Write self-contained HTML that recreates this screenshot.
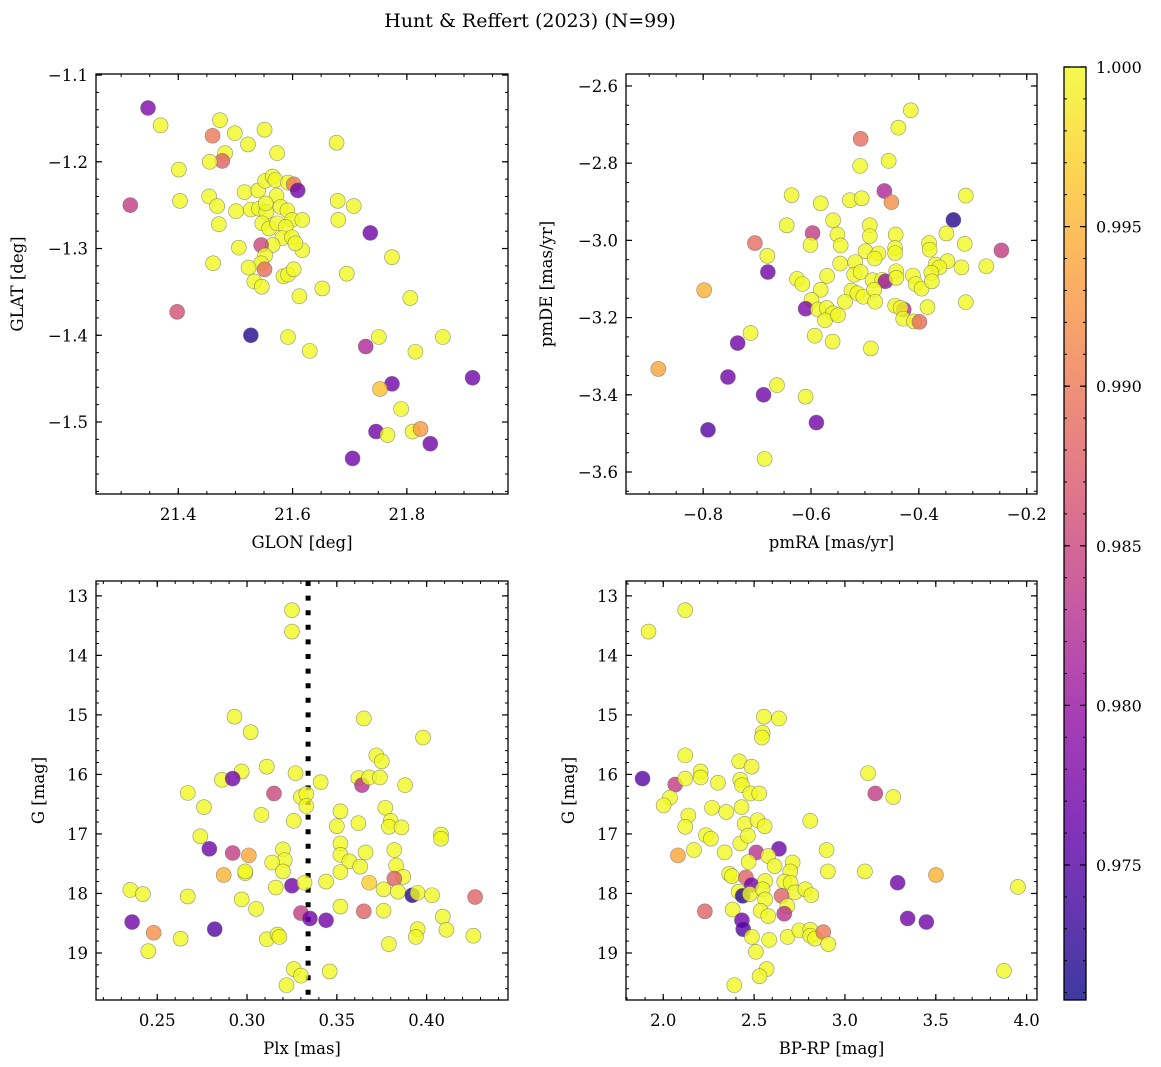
<!DOCTYPE html>
<html><head><meta charset="utf-8">
<style>
html,body{margin:0;padding:0;background:#fff;}
svg{display:block;font-family:"DejaVu Serif","Liberation Serif",serif;}
</style></head>
<body>
<svg id="fig" width="1161" height="1067" viewBox="0 0 1161 1067" xmlns="http://www.w3.org/2000/svg">
<rect width="1161" height="1067" fill="#fff"/>
<text x="530" y="27" font-size="19" text-anchor="middle">Hunt &amp; Reffert (2023) (N=99)</text>
</svg>
<script>
// ---------- Panel 1: GLON / GLAT ----------
const glon = [21.347,21.369,21.473,21.460,21.499,21.551,21.522,21.573,21.482,21.477,
21.455,21.401,21.677,21.316,21.403,21.454,21.468,21.471,21.501,21.516,
21.540,21.552,21.565,21.570,21.592,21.602,21.609,21.572,21.527,21.541,
21.554,21.553,21.579,21.591,21.599,21.617,21.547,21.559,21.573,21.588,
21.582,21.599,21.565,21.617,21.605,21.545,21.552,21.545,21.551,21.523,
21.533,21.546,21.584,21.592,21.602,21.612,21.652,21.695,21.506,21.461,
21.679,21.707,21.680,21.736,21.774,21.806,21.398,21.527,21.592,21.630,
21.751,21.728,21.815,21.863,21.915,21.774,21.753,21.790,21.746,21.766,
21.810,21.824,21.841,21.705];
const glat = [-1.138,-1.158,-1.152,-1.170,-1.167,-1.163,-1.180,-1.190,-1.190,-1.199,
-1.200,-1.209,-1.178,-1.250,-1.245,-1.240,-1.251,-1.272,-1.257,-1.235,
-1.233,-1.222,-1.217,-1.221,-1.224,-1.226,-1.233,-1.239,-1.255,-1.254,
-1.258,-1.248,-1.252,-1.256,-1.267,-1.267,-1.271,-1.277,-1.271,-1.275,
-1.288,-1.287,-1.296,-1.302,-1.294,-1.296,-1.308,-1.317,-1.324,-1.322,
-1.338,-1.344,-1.332,-1.330,-1.324,-1.355,-1.346,-1.329,-1.299,-1.317,
-1.245,-1.251,-1.267,-1.282,-1.310,-1.357,-1.373,-1.400,-1.402,-1.418,
-1.402,-1.413,-1.419,-1.402,-1.449,-1.456,-1.462,-1.485,-1.511,-1.515,
-1.511,-1.508,-1.525,-1.542];
const prob1 = [.978,1,1,.99,1,1,1,1,1,.988,
1,1,1,.984,1,1,1,1,1,1,
1,1,1,1,1,.99,.977,1,1,1,
1,1,1,1,1,1,1,1,1,1,
1,1,1,1,1,.985,1,1,.989,1,
1,1,1,1,1,1,1,1,1,1,
1,1,1,.977,1,1,.986,.972,1,1,
1,.982,1,1,.977,.977,.996,1,.977,1,
1,.993,.977,.977];
const xTicks1 = [21.4,21.6,21.8];
const yTicks1 = [-1.1,-1.2,-1.3,-1.4,-1.5];

// ---------- Panel 2: pmRA / pmDE ----------
const pmra = [-0.415,-0.438,-0.508,-0.509,-0.456,-0.464,-0.451,-0.313,-0.636,-0.582,
-0.528,-0.506,-0.336,-0.559,-0.645,-0.597,-0.491,-0.551,-0.491,-0.443,
-0.349,-0.315,-0.247,-0.704,-0.601,-0.545,-0.681,-0.680,-0.499,-0.475,
-0.482,-0.444,-0.444,-0.381,-0.380,-0.546,-0.518,-0.369,-0.347,-0.321,
-0.275,-0.362,-0.377,-0.626,-0.616,-0.570,-0.520,-0.508,-0.486,-0.468,
-0.462,-0.442,-0.442,-0.411,-0.406,-0.395,-0.376,-0.582,-0.525,-0.514,
-0.503,-0.483,-0.481,-0.599,-0.610,-0.587,-0.571,-0.559,-0.574,-0.550,
-0.537,-0.444,-0.428,-0.434,-0.429,-0.409,-0.399,-0.384,-0.313,-0.798,
-0.712,-0.736,-0.593,-0.560,-0.489,-0.883,-0.754,-0.663,-0.688,-0.610,
-0.590,-0.791,-0.686];
const pmde = [-2.663,-2.708,-2.737,-2.807,-2.794,-2.872,-2.901,-2.884,-2.883,-2.904,
-2.896,-2.891,-2.947,-2.948,-2.961,-2.981,-2.961,-2.985,-2.989,-2.985,
-2.982,-3.009,-3.026,-3.007,-3.012,-3.013,-3.040,-3.082,-3.028,-3.034,
-3.047,-3.020,-3.033,-3.007,-3.024,-3.060,-3.056,-3.063,-3.054,-3.070,
-3.067,-3.070,-3.084,-3.100,-3.113,-3.092,-3.089,-3.082,-3.103,-3.102,
-3.106,-3.080,-3.097,-3.091,-3.113,-3.125,-3.106,-3.128,-3.130,-3.137,
-3.146,-3.128,-3.159,-3.154,-3.177,-3.179,-3.175,-3.189,-3.207,-3.194,
-3.159,-3.169,-3.179,-3.175,-3.203,-3.210,-3.211,-3.173,-3.160,-3.129,
-3.240,-3.266,-3.247,-3.262,-3.280,-3.333,-3.354,-3.375,-3.400,-3.405,
-3.472,-3.491,-3.566];
const prob2 = [1,1,.989,1,1,.982,.992,1,1,1,
1,1,.972,1,1,.984,1,1,1,1,
1,1,.984,.989,1,1,1,.977,1,1,
1,1,1,1,1,1,1,1,1,1,
1,1,1,1,1,1,1,1,1,1,
.98,1,1,1,1,1,1,1,1,1,
1,1,1,1,.978,1,1,1,1,1,
1,1,.983,1,1,1,.989,1,1,.995,
1,.977,1,1,1,.994,.977,1,.977,1,
.977,.975,1];
const xTicks2 = [-0.8,-0.6,-0.4,-0.2];
const yTicks2 = [-2.6,-2.8,-3.0,-3.2,-3.4,-3.6];

// ---------- Panel 3: Plx / G ----------
const plx = [.325,.325,.293,.365,.302,.398,.372,.375,.311,.327,
.297,.286,.292,.341,.362,.364,.368,.374,.388,.315,
.267,.330,.333,.333,.276,.308,.352,.377,.380,.379,
.386,.326,.350,.362,.408,.408,.274,.279,.292,.301,
.320,.321,.314,.320,.352,.352,.357,.366,.363,.352,
.382,.383,.387,.382,.287,.299,.299,.235,.242,.267,
.325,.332,.344,.316,.368,.376,.384,.392,.395,.403,
.427,.297,.305,.352,.365,.376,.409,.330,.335,.344,
.236,.282,.248,.263,.311,.317,.318,.395,.394,.411,
.426,.379,.245,.326,.330,.346,.322];
const gmag3 = [13.24,13.60,15.03,15.06,15.29,15.38,15.68,15.78,15.87,15.98,
15.95,16.09,16.07,16.13,16.06,16.18,16.05,16.05,16.18,16.32,
16.31,16.38,16.33,16.53,16.55,16.68,16.62,16.56,16.78,16.88,
16.89,16.78,16.87,16.82,17.01,17.08,17.04,17.25,17.32,17.36,
17.26,17.44,17.48,17.63,17.16,17.35,17.46,17.31,17.55,17.64,
17.27,17.53,17.72,17.75,17.69,17.66,17.63,17.94,18.01,18.05,
17.87,17.82,17.80,17.90,17.82,17.93,17.97,18.03,17.99,18.03,
18.06,18.10,18.26,18.22,18.30,18.29,18.39,18.33,18.42,18.45,
18.48,18.60,18.66,18.76,18.77,18.69,18.73,18.60,18.73,18.61,
18.71,18.85,18.97,19.27,19.38,19.31,19.54];
const prob3 = [1,1,1,1,1,1,1,1,1,1,
1,1,.977,1,1,.983,1,1,1,.985,
1,1,1,1,1,1,1,1,1,1,
1,1,1,1,1,1,1,.977,.984,.994,
1,1,1,1,1,1,1,1,1,1,
1,1,1,.988,.995,1,1,1,1,1,
.977,1,1,1,.997,1,1,.972,1,1,
.988,1,1,1,.988,1,1,.984,.977,.977,
.977,.975,.992,1,1,1,1,1,1,1,
1,1,1,1,1,1,1];
const xTicks3 = [0.25,0.30,0.35,0.40];
const yTicksG = [13,14,15,16,17,18,19];
const plxRef = [0.334];

// ---------- Panel 4: BP-RP / G ----------
const bprp = [2.121,1.919,2.554,2.637,2.547,2.543,2.121,2.418,2.486,1.886,
2.066,2.121,2.206,2.206,2.301,2.424,2.433,2.479,2.528,3.127,
3.167,3.266,2.037,2.002,2.138,2.121,2.268,2.347,2.431,2.448,
2.519,2.558,2.809,2.235,2.262,2.424,2.466,2.169,2.081,2.338,
2.512,2.637,2.578,2.470,2.613,2.712,2.699,2.899,2.906,3.110,
2.363,2.378,2.455,2.486,2.561,2.666,2.701,3.290,3.501,3.952,
2.415,2.437,2.477,2.547,2.561,2.725,2.782,2.815,2.651,2.683,
2.666,2.229,2.382,2.536,2.578,2.433,2.440,3.345,3.448,2.488,
2.583,2.684,2.749,2.809,2.809,2.835,2.881,2.908,2.510,2.569,
2.530,3.875,2.391];
const gmag4 = [13.24,13.60,15.03,15.06,15.30,15.38,15.68,15.78,15.87,16.07,
16.17,16.07,15.95,16.05,16.14,16.09,16.18,16.32,16.32,15.98,
16.32,16.38,16.39,16.52,16.69,16.88,16.56,16.63,16.55,16.83,
16.77,16.87,16.78,17.02,17.08,17.16,17.03,17.27,17.36,17.31,
17.31,17.25,17.37,17.47,17.54,17.48,17.63,17.27,17.63,17.63,
17.67,17.71,17.73,17.86,17.79,17.80,17.82,17.82,17.69,17.89,
17.97,18.04,18.01,17.93,18.10,17.98,17.93,18.03,18.04,18.21,
18.34,18.30,18.27,18.29,18.38,18.45,18.60,18.42,18.48,18.73,
18.78,18.73,18.62,18.61,18.71,18.76,18.65,18.85,18.98,19.27,
19.39,19.30,19.54];
const prob4 = [1,1,1,1,1,1,1,1,1,.975,
.984,1,1,1,1,1,1,1,1,1,
.984,1,1,1,1,1,1,1,1,1,
1,1,1,1,1,1,1,1,.994,1,
.983,.977,1,1,1,1,1,1,1,1,
1,1,.988,.977,1,1,1,.977,.995,1,
1,.972,1,1,1,1,1,1,.988,1,
.983,.988,1,1,1,.977,.975,.977,.977,1,
1,1,1,1,1,1,.99,1,1,1,
1,1,1];
const xTicks4 = [2.0,2.5,3.0,3.5,4.0];

// ---------- Colorbar ----------
const cbTicks = [1.000,0.995,0.990,0.985,0.980,0.975];
const cbRange = [0.97077,1.0];

const NS = "http://www.w3.org/2000/svg";
const svg = document.getElementById('fig');
function el(tag, attrs, parent){
  const e = document.createElementNS(NS, tag);
  for (const k in attrs) e.setAttribute(k, attrs[k]);
  (parent||svg).appendChild(e);
  return e;
}
const plasmaStops = ["#0d0887","#41049d","#6a00a8","#8f0da4","#b12a90","#cc4778","#e16462","#f2844b","#fca636","#fcce25","#f0f921"];
function hex(h){return [parseInt(h.slice(1,3),16),parseInt(h.slice(3,5),16),parseInt(h.slice(5,7),16)];}
function plasma(t){
  t = Math.max(0,Math.min(1,t));
  const f = t*10, i = Math.min(9,Math.floor(f)), r = f-i;
  const a = hex(plasmaStops[i]), b = hex(plasmaStops[i+1]);
  return "rgb("+a.map((v,k)=>Math.round(v+(b[k]-v)*r)).join(",")+")";
}
function colorOf(p){return plasma((p-cbRange[0])/(cbRange[1]-cbRange[0]));}
function fmt(v,d){const s=Math.abs(v).toFixed(d);return (v<0?"\u2212":"")+s;}

function makeScale(d0,d1,r0,r1){return v=>r0+(v-d0)/(d1-d0)*(r1-r0);}

function panel(cfg){
  const {L,T,R,B,xd,yd,name} = cfg;
  const sx = makeScale(xd[0],xd[1],L,R), sy = makeScale(yd[0],yd[1],T,B);
  const g = el('g',{});
  
  
  const lo = Math.min(xd[0],xd[1]), hi = Math.max(xd[0],xd[1]);
  for (let v=Math.ceil(lo/cfg.xminor)*cfg.xminor; v<=hi; v+=cfg.xminor){
    const x=sx(v);
    el('line',{x1:x,x2:x,y1:B,y2:B-3,stroke:'#000','stroke-width':1},g);
    el('line',{x1:x,x2:x,y1:T,y2:T+3,stroke:'#000','stroke-width':1},g);
  }
  const ylo=Math.min(yd[0],yd[1]), yhi=Math.max(yd[0],yd[1]);
  for (let v=Math.ceil(ylo/cfg.yminor)*cfg.yminor; v<=yhi; v+=cfg.yminor){
    const y=sy(v);
    el('line',{x1:L,x2:L+3,y1:y,y2:y,stroke:'#000','stroke-width':1},g);
    el('line',{x1:R,x2:R-3,y1:y,y2:y,stroke:'#000','stroke-width':1},g);
  }
  cfg.xt.forEach(v=>{
    const x=sx(v);
    el('line',{x1:x,x2:x,y1:B,y2:B-6,stroke:'#000','stroke-width':1.2},g);
    el('line',{x1:x,x2:x,y1:T,y2:T+6,stroke:'#000','stroke-width':1.2},g);
    const t=el('text',{x:x,y:B+26,'font-size':16.5,'text-anchor':'middle'},g);
    t.textContent=fmt(v,cfg.xdec);
    
    
  });
  cfg.yt.forEach(v=>{
    const y=sy(v);
    el('line',{x1:L,x2:L+6,y1:y,y2:y,stroke:'#000','stroke-width':1.2},g);
    el('line',{x1:R,x2:R-6,y1:y,y2:y,stroke:'#000','stroke-width':1.2},g);
    const t=el('text',{x:L-8,y:y+6,'font-size':16.5,'text-anchor':'end'},g);
    t.textContent=fmt(v,cfg.ydec);
    
    
  });
  if (cfg.vline){
    cfg.vline.forEach(v=>{
      const ln=el('line',{x1:sx(v),x2:sx(v),y1:T,y2:B,stroke:'#000','stroke-width':5,'stroke-dasharray':'5 9.6'},g);
      
      
    });
  }
  const pts = el('g',{},g);
  
  
  cfg.xs.forEach((xv,i)=>{
    const c=el('circle',{cx:sx(xv),cy:sy(cfg.ys[i]),r:7.5,fill:colorOf(cfg.ps[i]),'fill-opacity':0.8,stroke:'#666','stroke-width':0.6,'stroke-opacity':0.7},pts);
    
    
  });
  const fr=el('rect',{x:L,y:T,width:R-L,height:B-T,fill:'none',stroke:'#000','stroke-width':1.3},g);
  
  
  const xl=el('text',{x:(L+R)/2,y:B+54,'font-size':16.5,'text-anchor':'middle'},g);
  xl.textContent=cfg.xlabel;
  
  
  const yl=el('text',{x:0,y:0,'font-size':16.5,'text-anchor':'middle',transform:`translate(${cfg.ylx},${(T+B)/2}) rotate(-90)`},g);
  yl.textContent=cfg.ylabel;
  
  
}

panel({name:'glon-glat',L:96,T:74,R:508,B:494,xd:[21.256,21.977],yd:[-1.0988,-1.583],
  xt:xTicks1,yt:yTicks1,xminor:0.05,yminor:0.02,xdec:1,ydec:1,xs:glon,ys:glat,ps:prob1,
  xlabel:'GLON [deg]',ylabel:'GLAT [deg]',ylx:23});
panel({name:'pm',L:626,T:74,R:1037,B:494,xd:[-0.943,-0.181],yd:[-2.569,-3.657],
  xt:xTicks2,yt:yTicks2,xminor:0.05,yminor:0.05,xdec:1,ydec:1,xs:pmra,ys:pmde,ps:prob2,
  xlabel:'pmRA [mas/yr]',ylabel:'pmDE [mas/yr]',ylx:552});
panel({name:'plx-g',L:96,T:581,R:508,B:1000,xd:[0.2159,0.4453],yd:[12.75,19.79],
  xt:xTicks3,yt:yTicksG,xminor:0.01,yminor:0.2,xdec:2,ydec:0,xs:plx,ys:gmag3,ps:prob3,
  xlabel:'Plx [mas]',ylabel:'G [mag]',ylx:44,vline:plxRef});
panel({name:'cmd',L:626,T:581,R:1037,B:1000,xd:[1.795,4.057],yd:[12.75,19.79],
  xt:xTicks4,yt:yTicksG,xminor:0.1,yminor:0.2,xdec:1,ydec:0,xs:bprp,ys:gmag4,ps:prob4,
  xlabel:'BP-RP [mag]',ylabel:'G [mag]',ylx:574});

(function(){
  const L=1064,R=1086,T=67,B=1000;
  const g=el('g',{});
  
  
  const defs=el('defs',{},g);
  const lg=el('linearGradient',{id:'cbg',x1:0,y1:1,x2:0,y2:0},defs);
  for(let i=0;i<=20;i++){el('stop',{offset:(i/20),'stop-color':plasma(i/20)},lg);}
  el('rect',{x:L,y:T,width:R-L,height:B-T,fill:'url(#cbg)','fill-opacity':0.8},g);
  const sy=makeScale(cbRange[0],cbRange[1],B,T);
  for(let v=0.971; v<=1.0001; v+=0.001){
    const y=sy(v);
    el('line',{x1:R,x2:R-3,y1:y,y2:y,stroke:'#000','stroke-width':1},g);
    el('line',{x1:L,x2:L+3,y1:y,y2:y,stroke:'#000','stroke-width':1},g);
  }
  cbTicks.forEach(v=>{
    const y=sy(v);
    el('line',{x1:R,x2:R-6,y1:y,y2:y,stroke:'#000','stroke-width':1.2},g);
    el('line',{x1:L,x2:L+6,y1:y,y2:y,stroke:'#000','stroke-width':1.2},g);
    const t=el('text',{x:R+10,y:y+6,'font-size':16},g);
    t.textContent=v.toFixed(3);
    
    
  });
  el('rect',{x:L,y:T,width:R-L,height:B-T,fill:'none',stroke:'#000','stroke-width':1.3},g);
})();
</script>
</body></html>
